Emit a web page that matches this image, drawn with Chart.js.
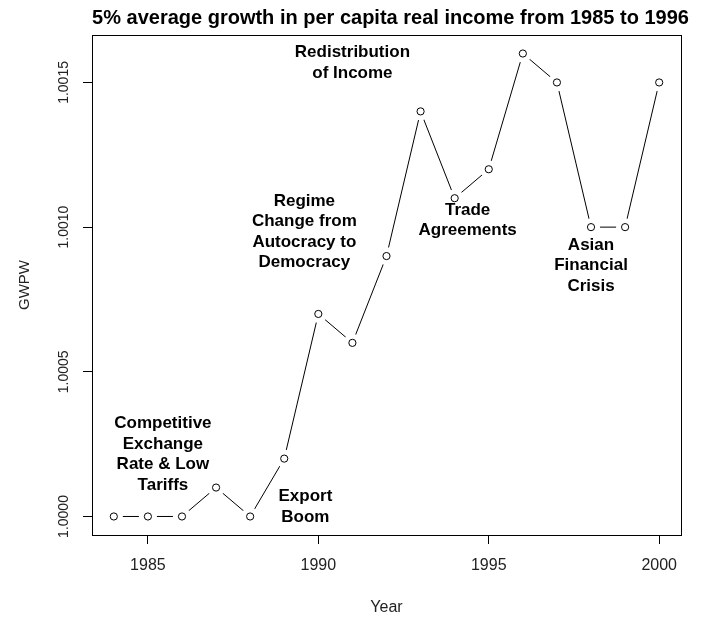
<!DOCTYPE html>
<html lang="en">
<head>
    <meta charset="UTF-8">
    <title>GWPW by Year</title>
    <script src="https://cdn.jsdelivr.net/npm/chart.js"></script>
    <style>
        html, body { margin: 0; padding: 0; background: #fff; }
        #wrap { width: 709px; height: 622px; }
    </style>
</head>
<body>
    <div id="wrap"><canvas id="gwpwChart" width="709" height="622"></canvas></div>

    <script>
        // data
        const years = [1984, 1985, 1986, 1987, 1988, 1989, 1990, 1991, 1992, 1993, 1994, 1995, 1996, 1997, 1998, 1999, 2000];
        const gwpw = [1.0000, 1.0000, 1.0000, 1.0001, 1.0000, 1.0002, 1.0007, 1.0006, 1.0009, 1.0014, 1.0011, 1.0012, 1.0016, 1.0015, 1.0010, 1.0010, 1.0015];
        const xTicks = [1985, 1990, 1995, 2000];
        const yTicks = [1.0000, 1.0005, 1.0010, 1.0015];

        // annotations: text lines + anchor (data coords of first line)
        const noteText = [
            ['Competitive', 'Exchange', 'Rate & Low', 'Tariffs'],
            ['Export', 'Boom'],
            ['Regime', 'Change from', 'Autocracy to', 'Democracy'],
            ['Redistribution', 'of Income'],
            ['Trade', 'Agreements'],
            ['Asian', 'Financial', 'Crisis']
        ];
        const noteX = [1985.44, 1989.62, 1989.59, 1991.0, 1994.38, 1998.0];
        const noteY = [1.000321, 1.000069, 1.001090, 1.001603, 1.001059, 1.000938];

        const titleText = '5% average growth in per capita real income from 1985 to 1996';

        const points = years.map((y, i) => ({ x: y, y: gwpw[i] }));

        // box, title and text notes
        const extras = {
            id: 'extras',
            afterDraw(chart) {
                const ctx = chart.ctx;
                const a = chart.chartArea;
                const xs = chart.scales.x, ys = chart.scales.y;
                ctx.save();
                ctx.strokeStyle = '#000';
                ctx.lineWidth = 1;
                ctx.strokeRect(a.left + 0.5, a.top + 0.5, a.right - a.left, a.bottom - a.top);

                ctx.fillStyle = '#000';
                ctx.textAlign = 'center';
                ctx.textBaseline = 'middle';
                ctx.font = 'bold 20px "Liberation Sans", Arial, sans-serif';
                ctx.fillText(titleText, (a.left + a.right) / 2 + 4, 18);

                ctx.font = 'bold 17px "Liberation Sans", Arial, sans-serif';
                noteText.forEach((lines, i) => {
                    const px = xs.getPixelForValue(noteX[i]);
                    const py = ys.getPixelForValue(noteY[i]);
                    lines.forEach((t, j) => ctx.fillText(t, px, py + j * 20.5));
                });
                ctx.restore();
            }
        };

        new Chart(document.getElementById('gwpwChart'), {
            type: 'line',
            data: {
                datasets: [
                    {
                        data: points,
                        borderColor: '#000',
                        borderWidth: 1,
                        pointRadius: 0,
                        tension: 0,
                        order: 3
                    },
                    {
                        // white mask so the line stops short of each point
                        data: points,
                        showLine: false,
                        pointRadius: 9,
                        pointBackgroundColor: '#fff',
                        pointBorderWidth: 0,
                        order: 2
                    },
                    {
                        data: points,
                        showLine: false,
                        pointRadius: 3.6,
                        pointBackgroundColor: '#fff',
                        pointBorderColor: '#000',
                        pointBorderWidth: 1,
                        order: 1
                    }
                ]
            },
            options: {
                responsive: false,
                animation: false,
                events: [],
                layout: { padding: { top: 35, right: 28, left: 0, bottom: 0 } },
                plugins: { legend: { display: false }, tooltip: { enabled: false } },
                scales: {
                    x: {
                        type: 'linear',
                        min: 1983.36,
                        max: 2000.64,
                        afterBuildTicks: s => { s.ticks = xTicks.map(v => ({ value: v })); },
                        afterFit: s => { s.height = 87; },
                        grid: { drawOnChartArea: false, color: '#000', tickLength: 9 },
                        border: { display: false },
                        ticks: {
                            color: '#222',
                            font: { family: 'Liberation Sans', size: 16 },
                            padding: 12,
                            minRotation: 0,
                            maxRotation: 0,
                            callback: v => String(v)
                        },
                        title: {
                            display: true,
                            text: 'Year',
                            color: '#222',
                            font: { family: 'Liberation Sans', size: 16 },
                            padding: { top: 0, bottom: 5 }
                        }
                    },
                    y: {
                        min: 0.999936,
                        max: 1.001664,
                        afterBuildTicks: s => { s.ticks = yTicks.map(v => ({ value: v })); },
                        afterFit: s => { s.width = 92; },
                        grid: { drawOnChartArea: false, color: '#000', tickLength: 9 },
                        border: { display: false },
                        ticks: {
                            color: '#222',
                            font: { family: 'Liberation Sans', size: 14 },
                            padding: -3,
                            minRotation: 90,
                            maxRotation: 90,
                            crossAlign: 'center',
                            callback: v => v.toFixed(4)
                        },
                        title: {
                            display: true,
                            text: 'GWPW',
                            color: '#222',
                            font: { family: 'Liberation Sans', size: 15 },
                            padding: { top: 16, bottom: 0 }
                        }
                    }
                }
            },
            plugins: [extras]
        });
    </script>
</body>
</html>
